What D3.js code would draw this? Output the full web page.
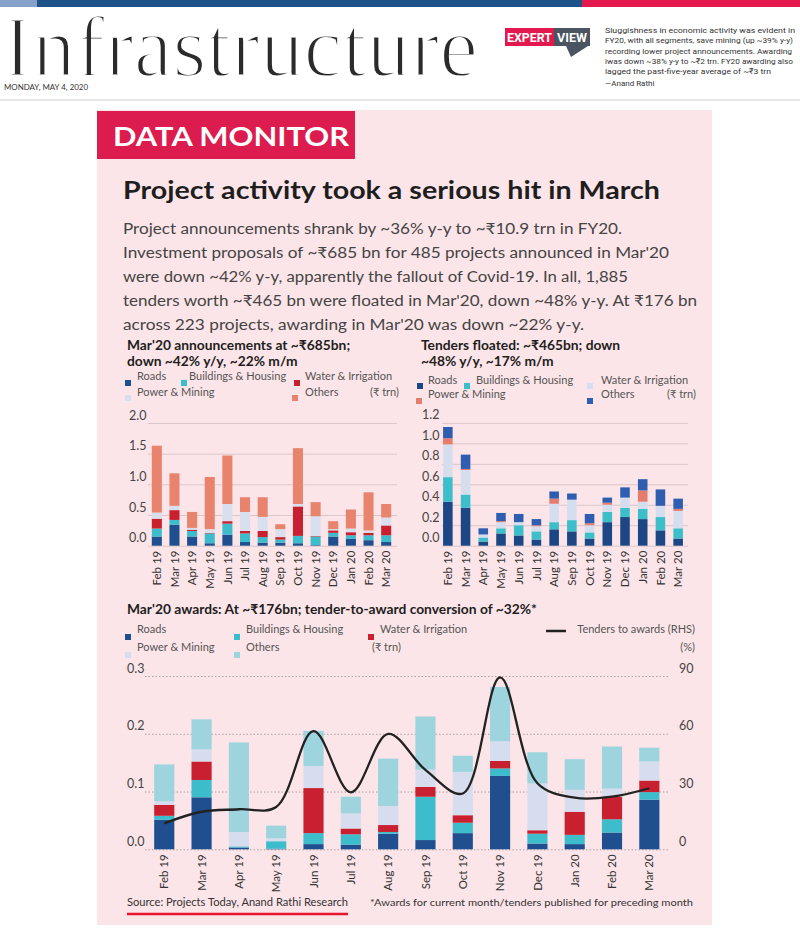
<!DOCTYPE html>
<html><head><meta charset="utf-8">
<script src="https://cdn.jsdelivr.net/npm/d3@7"></script>
<style>
body{margin:0;background:#fff;}
svg{display:block;font-family:Lato,"Open Sans","Noto Sans",sans-serif;}
</style>
</head><body>
<svg id="c" width="800" height="930"></svg>
<script>
// ---------------- DATA ----------------
const months = ["Feb 19","Mar 19","Apr 19","May 19","Jun 19","Jul 19","Aug 19","Sep 19","Oct 19","Nov 19","Dec 19","Jan 20","Feb 20","Mar 20"];
const seriesNames = ["Roads","Buildings & Housing","Water & Irrigation","Power & Mining","Others"];

// Chart 1: announcements (₹ trn)
const annRoads     = [0.15,0.34,0.15,0.04,0.18,0.06,0.05,0.05,0.04,0.01,0.15,0.11,0.09,0.06];
const annBuildings = [0.13,0.08,0.09,0.16,0.18,0.14,0.09,0.05,0.12,0.14,0.06,0.06,0.08,0.11];
const annWater     = [0.16,0.16,0.02,0.01,0.04,0.04,0.10,0.04,0.48,0.01,0.04,0.05,0.04,0.16];
const annPower     = [0.10,0.07,0.03,0.06,0.28,0.31,0.23,0.13,0.04,0.32,0.02,0.06,0.04,0.13];
const annOthers    = [1.09,0.53,0.26,0.85,0.79,0.24,0.32,0.08,0.91,0.23,0.13,0.31,0.62,0.22];
const annTicks = [0,0.5,1.0,1.5,2.0];

// Chart 2: tenders floated (₹ trn)
const tenRoads     = [0.43,0.37,0.04,0.12,0.10,0.06,0.16,0.14,0.07,0.23,0.28,0.26,0.15,0.07];
const tenBuildings = [0.24,0.13,0.04,0.05,0.10,0.08,0.07,0.11,0.06,0.10,0.09,0.10,0.13,0.10];
const tenWater     = [0.32,0.24,0.03,0.06,0.03,0.05,0.18,0.20,0.07,0.07,0.10,0.07,0.11,0.17];
const tenPower     = [0.06,0.01,0.00,0.01,0.00,0.01,0.05,0.00,0.02,0.02,0.00,0.11,0.00,0.02];
const tenOthers    = [0.11,0.14,0.06,0.08,0.08,0.06,0.07,0.06,0.09,0.05,0.10,0.11,0.16,0.10];
const tenTicks = [0,0.2,0.4,0.6,0.8,1.0,1.2];

// Chart 3: awards (₹ trn) and tenders-to-awards (%)
const awdRoads     = [0.051,0.090,0.003,0.001,0.009,0.008,0.027,0.016,0.028,0.127,0.010,0.009,0.029,0.086];
const awdBuildings = [0.007,0.030,0.002,0.013,0.019,0.018,0.003,0.075,0.018,0.013,0.017,0.016,0.023,0.013];
const awdWater     = [0.019,0.032,0.000,0.000,0.078,0.010,0.012,0.017,0.013,0.013,0.006,0.040,0.039,0.020];
const awdPower     = [0.006,0.021,0.025,0.005,0.038,0.026,0.033,0.030,0.075,0.034,0.081,0.038,0.014,0.033];
const awdOthers    = [0.064,0.052,0.155,0.022,0.061,0.029,0.082,0.092,0.028,0.094,0.054,0.053,0.073,0.024];
const conversionPct = [13.5,19.5,20.8,22,61.4,29.6,59.9,41.2,29,89.3,34.3,26.8,27.3,31.7];
const awdTicksL = [0,0.1,0.2,0.3];
const awdTicksR = [0,30,60,90];

// ---------------- DRAW ----------------
const svg = d3.select("#c");

// top colour bar
svg.append("rect").attr("x",0).attr("y",0).attr("width",37).attr("height",7).attr("fill","#86a2c8");
svg.append("rect").attr("x",37).attr("y",0).attr("width",545).attr("height",7).attr("fill","#1d5389");
svg.append("rect").attr("x",582).attr("y",0).attr("width",218).attr("height",7).attr("fill","#e3194d");

// masthead
svg.append("text").attr("x",3).attr("y",76)
  .attr("font-family","'Liberation Serif','DejaVu Serif',serif").attr("font-size",86)
  .attr("fill","#2b2b2b").attr("stroke","#fff").attr("stroke-width",2.8)
  .attr("textLength",475).attr("lengthAdjust","spacingAndGlyphs").text("Infrastructure");
svg.append("text").attr("x",4).attr("y",90).attr("font-size",7.5).attr("fill","#333")
  .attr("textLength",84).attr("lengthAdjust","spacingAndGlyphs").text("MONDAY, MAY 4, 2020");
svg.append("line").attr("x1",0).attr("x2",800).attr("y1",100).attr("y2",100).attr("stroke","#d0d0d0");

// Expert view badge
svg.append("rect").attr("x",505).attr("y",28).attr("width",49).attr("height",18).attr("fill","#e3194d");
svg.append("rect").attr("x",554).attr("y",28).attr("width",36).attr("height",18).attr("fill","#4a5561");
svg.append("path").attr("d","M566,46 L588,46 L571,57 Z").attr("fill","#4a5561");
svg.append("text").attr("x",507).attr("y",42).attr("font-size",12.5).attr("font-weight","bold").attr("fill","#fff")
  .attr("font-family","'Liberation Sans Narrow','Roboto',sans-serif")
  .attr("textLength",45).attr("lengthAdjust","spacingAndGlyphs").text("EXPERT");
svg.append("text").attr("x",557).attr("y",42).attr("font-size",12.5).attr("font-weight","bold").attr("fill","#fff")
  .attr("font-family","'Liberation Sans Narrow','Roboto',sans-serif")
  .attr("textLength",30).attr("lengthAdjust","spacingAndGlyphs").text("VIEW");
const expertLines = [
  ["Sluggishness in economic activity was evident in",190],
  ["FY20, with all segments, save mining (up ~39% y-y)",188],
  ["recording lower project announcements. Awarding",187],
  ["iwas down ~38% y-y to ~₹2 trn. FY20 awarding also",188],
  ["lagged the past-five-year average of ~₹3 trn",166]
];
expertLines.forEach((l,i)=>{
  svg.append("text").attr("x",605).attr("y",33+i*10.3).attr("font-size",8).attr("fill","#333")
    .attr("font-family","'Liberation Sans Narrow','Roboto',sans-serif")
    .attr("textLength",l[1]).attr("lengthAdjust","spacingAndGlyphs").text(l[0]);
});
svg.append("text").attr("x",605).attr("y",86).attr("font-size",8).attr("fill","#333")
  .attr("font-family","'Liberation Sans Narrow','Roboto',sans-serif").text("—Anand Rathi");

// pink panel
svg.append("rect").attr("x",97).attr("y",110).attr("width",615).attr("height",815).attr("fill","#fce5e8");
svg.append("rect").attr("x",97).attr("y",111).attr("width",258).attr("height",48).attr("fill","#dc1c4e");
svg.append("text").attr("x",113).attr("y",146).attr("font-size",27).attr("font-weight","bold").attr("fill","#fff")
  .attr("textLength",236).attr("lengthAdjust","spacingAndGlyphs").text("DATA MONITOR");

svg.append("text").attr("x",123).attr("y",199).attr("font-size",25).attr("font-weight","bold").attr("fill","#1e1e1e")
  .attr("textLength",537).attr("lengthAdjust","spacingAndGlyphs").text("Project activity took a serious hit in March");

const para = [
  ["Project announcements shrank by ~36% y-y to ~₹10.9 trn in FY20.",499],
  ["Investment proposals of ~₹685 bn for 485 projects announced in Mar'20",546],
  ["were down ~42% y-y, apparently the fallout of Covid-19. In all, 1,885",505],
  ["tenders worth ~₹465 bn were floated in Mar'20, down ~48% y-y. At ₹176 bn",574],
  ["across 223 projects, awarding in Mar'20 was down ~22% y-y.",461]
];
para.forEach((l,i)=>{
  svg.append("text").attr("x",123).attr("y",234+i*24).attr("font-size",15.5).attr("fill","#444")
    .attr("textLength",l[1]).attr("lengthAdjust","spacingAndGlyphs").text(l[0]);
});

// ---- helpers ----
function stackedChart(opts){
  const g = svg.append("g");
  const data = months.map((m,i)=>{const o={month:m}; seriesNames.forEach((k,j)=>o[k]=opts.values[j][i]); return o;});
  const stacked = d3.stack().keys(seriesNames)(data);
  const x = d3.scaleBand().domain(months).range(opts.xRange).paddingInner(opts.pad).paddingOuter(opts.pad/2);
  const y = d3.scaleLinear().domain(opts.yDomain).range(opts.yRange);
  const ga = g.append("g").attr("transform",`translate(${opts.gridX0},0)`)
    .call(d3.axisLeft(y).tickValues(opts.ticks).tickSize(-(opts.gridX1-opts.gridX0)).tickFormat(opts.fmt));
  ga.attr("font-family",null).attr("font-size",null);
  ga.select(".domain").remove();
  ga.selectAll(".tick line").attr("stroke",opts.gridColor).attr("stroke-width",1).attr("stroke-dasharray",opts.dash||null);
  ga.selectAll(".tick text").attr("x",opts.labelX-opts.gridX0).attr("dy",-4).attr("text-anchor","start")
    .attr("font-size",opts.tickSize||12.5).attr("fill","#444");
  g.append("g").selectAll("g").data(stacked).join("g").attr("fill",(d,i)=>opts.colors[i])
    .selectAll("rect").data(d=>d).join("rect")
    .attr("x",d=>x(d.data.month)).attr("width",x.bandwidth())
    .attr("y",d=>y(d[1])).attr("height",d=>Math.max(0,y(d[0])-y(d[1])));
  const gx = g.append("g").attr("transform",`translate(0,${opts.yRange[0]})`).call(d3.axisBottom(x).tickSize(0));
  gx.attr("font-family",null).attr("font-size",null);
  gx.select(".domain").remove();
  gx.selectAll(".tick text").attr("transform","rotate(-90)").attr("text-anchor","end")
    .attr("x",-5).attr("y",0).attr("dy","0.36em").attr("font-size",opts.xFont||11.5).attr("fill","#333");
  return {g,x,y};
}
function title(x,y,lines,size){
  lines.forEach((t,i)=>svg.append("text").attr("x",x).attr("y",y+i*15.5).attr("font-size",size||13.8)
    .attr("font-weight","bold").attr("fill","#1e1e1e").text(t));
}
function legendItem(mx,my,color,tx,ty,label,anchor){
  if(color) svg.append("rect").attr("x",mx-3).attr("y",my-3).attr("width",6).attr("height",6).attr("fill",color);
  svg.append("text").attr("x",tx).attr("y",ty).attr("font-size",11).attr("fill","#555")
    .attr("text-anchor",anchor||"start").text(label);
}

// ---- Chart 1 ----
const c1Colors = ["#1f4f8e","#3dbccb","#c8202f","#d8e0f0","#e8836e"];
title(127,350,["Mar'20 announcements at ~₹685bn;","down ~42% y/y, ~22% m/m"]);
legendItem(128,383,c1Colors[0],137,380,seriesNames[0]);
legendItem(184,383,c1Colors[1],189,380,seriesNames[1]);
legendItem(297,383,c1Colors[2],305,380,seriesNames[2]);
legendItem(128,398,c1Colors[3],137,396,seriesNames[3]);
legendItem(295,398,c1Colors[4],305,396,seriesNames[4]);
legendItem(0,0,null,399,396,"(₹ trn)","end");
stackedChart({values:[annRoads,annBuildings,annWater,annPower,annOthers],colors:c1Colors,
  xRange:[148,395],pad:0.43,yDomain:[0,2],yRange:[545.7,423],ticks:annTicks,fmt:d3.format(".1f"),
  gridX0:148,gridX1:397,labelX:129,gridColor:"#d9c7ca"});

// ---- Chart 2 ----
const c2Colors = ["#1c4784","#3dbfcb","#d5deef","#e57c6d","#2f5db0"];
title(421,350,["Tenders floated: ~₹465bn; down","~48% y/y, ~17% m/m"]);
legendItem(420,386,c2Colors[0],428,384,seriesNames[0]);
legendItem(467,386,c2Colors[1],476,384,seriesNames[1]);
legendItem(590,386,c2Colors[2],601,384,seriesNames[2]);
legendItem(419,401,c2Colors[3],428,398,seriesNames[3]);
legendItem(590,401,c2Colors[4],601,398,seriesNames[4]);
legendItem(0,0,null,696,398,"(₹ trn)","end");
stackedChart({values:[tenRoads,tenBuildings,tenWater,tenPower,tenOthers],colors:c2Colors,
  xRange:[439,687],pad:0.46,yDomain:[0,1.2],yRange:[545.7,422.9],ticks:tenTicks,fmt:d3.format(".1f"),
  gridX0:442,gridX1:688,labelX:422,gridColor:"#d9c7ca"});

// ---- Chart 3 ----
const c3Colors = ["#1f4f8e","#3dbccb","#c8202f","#d6ddee","#9ed4de"];
title(127,614,["Mar'20 awards: At ~₹176bn; tender-to-award conversion of ~32%*"]);
legendItem(128,637,c3Colors[0],137,633,seriesNames[0]);
legendItem(237,637,c3Colors[1],246,633,seriesNames[1]);
legendItem(371,637,c3Colors[2],380,633,seriesNames[2]);
legendItem(128,655,c3Colors[3],137,651,seriesNames[3]);
legendItem(237,655,c3Colors[4],246,651,seriesNames[4]);
legendItem(0,0,null,372,651,"(₹ trn)");
svg.append("line").attr("x1",546).attr("x2",566).attr("y1",631).attr("y2",631).attr("stroke","#222").attr("stroke-width",2.5);
legendItem(0,0,null,695,633,"Tenders to awards (RHS)","end");
legendItem(0,0,null,695,651,"(%)","end");
const c3 = stackedChart({values:[awdRoads,awdBuildings,awdWater,awdPower,awdOthers],colors:c3Colors,
  xRange:[145.6,668],pad:0.46,yDomain:[0,0.3],yRange:[849.3,676],ticks:awdTicksL,fmt:d3.format(".1f"),
  gridX0:145,gridX1:668,labelX:127,gridColor:"#a8a0a2",dash:"1.5,2",xFont:11.5});
const yR = d3.scaleLinear().domain([0,90]).range([849.3,676]);
const gr = svg.append("g").attr("transform","translate(679,0)")
  .call(d3.axisRight(yR).tickValues(awdTicksR).tickSize(0));
gr.attr("font-family",null).attr("font-size",null);
gr.select(".domain").remove();
gr.selectAll(".tick text").attr("x",0).attr("dy",-4).attr("text-anchor","start").attr("font-size",12.5).attr("fill","#444");
const line = d3.line().x((d,i)=>c3.x(months[i])+c3.x.bandwidth()/2).y(d=>yR(d)).curve(d3.curveCatmullRom.alpha(0.5));
svg.append("path").datum(conversionPct).attr("d",line).attr("fill","none").attr("stroke","#222").attr("stroke-width",2.3);

// footer
svg.append("text").attr("x",127).attr("y",906).attr("font-size",10.5).attr("fill","#333")
  .attr("textLength",221).attr("lengthAdjust","spacingAndGlyphs").text("Source: Projects Today, Anand Rathi Research");
svg.append("line").attr("x1",127).attr("x2",348).attr("y1",914).attr("y2",914).attr("stroke","#e8152f").attr("stroke-width",2.5);
svg.append("text").attr("x",693).attr("y",906).attr("font-size",10).attr("fill","#333").attr("text-anchor","end")
  .attr("textLength",323).attr("lengthAdjust","spacingAndGlyphs").text("*Awards for current month/tenders published for preceding month");
</script>
</body></html>
